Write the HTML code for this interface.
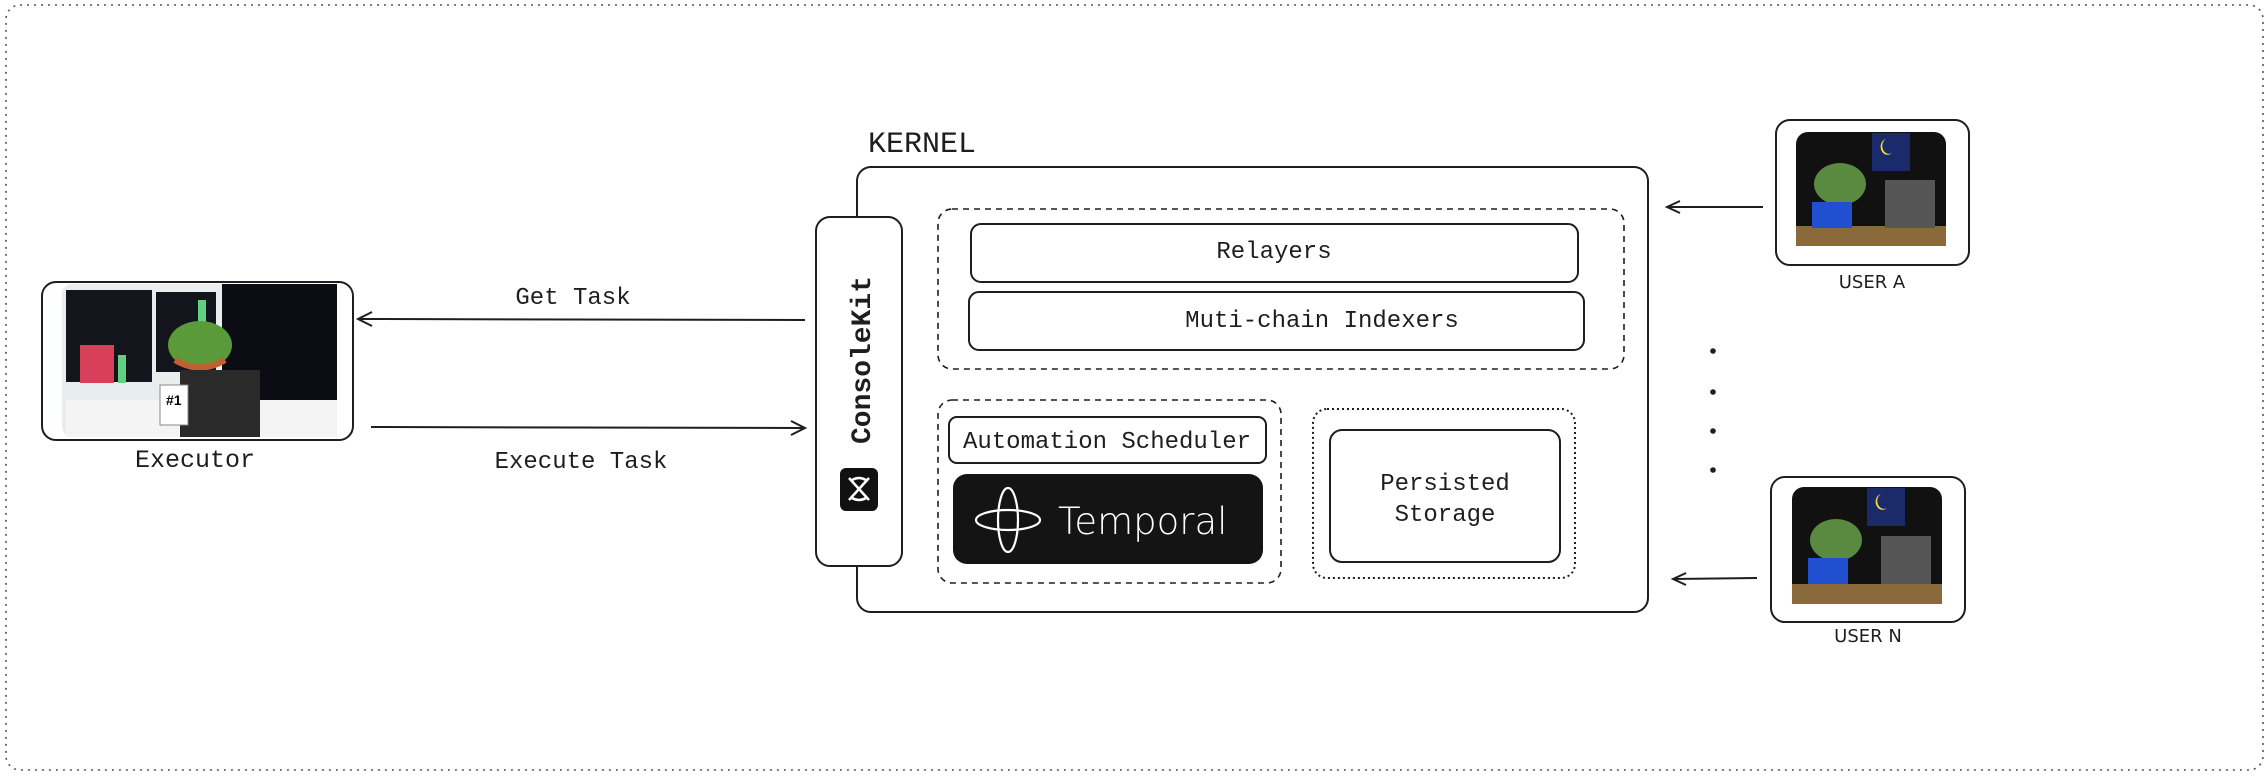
<!DOCTYPE html>
<html><head><meta charset="utf-8"><style>
html,body{margin:0;padding:0;background:#fff;}
svg{display:block;}
.m{font-family:"Liberation Mono","DejaVu Sans Mono",monospace;fill:#1e1e1e;}
</style></head><body>
<svg width="2268" height="780" viewBox="0 0 2268 780" xmlns="http://www.w3.org/2000/svg">
<rect x="6" y="5" width="2257" height="765" rx="14" fill="none" stroke="#555" stroke-width="1.6" stroke-dasharray="2 5"/>

<!-- Kernel -->
<text x="868" y="152" class="m" font-size="30">KERNEL</text>
<rect x="857" y="167" width="791" height="445" rx="14" fill="#fff" stroke="#1e1e1e" stroke-width="2"/>
<rect x="816" y="217" width="86" height="349" rx="14" fill="#fff" stroke="#1e1e1e" stroke-width="2"/>
<text transform="translate(870,360) rotate(-90)" class="m" font-size="28" text-anchor="middle" font-weight="bold">ConsoleKit</text>
<rect x="840" y="468" width="38" height="43" rx="6" fill="#111"/>
<path d="M849 478 L869 500 M869 478 L849 500 M852 480 Q859 476 866 480 M852 498 Q859 502 866 498" stroke="#fff" stroke-width="2.5" fill="none"/>

<rect x="938" y="209" width="686" height="160" rx="14" fill="none" stroke="#1e1e1e" stroke-width="1.6" stroke-dasharray="6 5"/>
<rect x="971" y="224" width="607" height="58" rx="10" fill="#fff" stroke="#1e1e1e" stroke-width="2"/>
<text x="1274" y="258" class="m" font-size="24" text-anchor="middle">Relayers</text>
<rect x="969" y="292" width="615" height="58" rx="10" fill="#fff" stroke="#1e1e1e" stroke-width="2"/>
<text x="1322" y="327" class="m" font-size="24" text-anchor="middle">Muti-chain Indexers</text>

<rect x="938" y="400" width="343" height="183" rx="14" fill="none" stroke="#1e1e1e" stroke-width="1.6" stroke-dasharray="6 5"/>
<rect x="949" y="417" width="317" height="46" rx="8" fill="#fff" stroke="#1e1e1e" stroke-width="2"/>
<text x="1107" y="448" class="m" font-size="24" text-anchor="middle">Automation Scheduler</text>
<rect x="953" y="474" width="310" height="90" rx="14" fill="#141414"/>
<ellipse cx="1008" cy="520" rx="10" ry="32" fill="none" stroke="#fff" stroke-width="2.2"/>
<ellipse cx="1008" cy="520" rx="32" ry="10" fill="none" stroke="#fff" stroke-width="2.2"/>
<text x="1058" y="534" font-family="'DejaVu Sans','Liberation Sans',sans-serif" font-size="37" fill="#fff" font-weight="300">Temporal</text>

<rect x="1313" y="409" width="262" height="169" rx="14" fill="none" stroke="#1e1e1e" stroke-width="2" stroke-dasharray="2 3"/>
<rect x="1330" y="430" width="230" height="132" rx="12" fill="#fff" stroke="#1e1e1e" stroke-width="2"/>
<text x="1445" y="490" class="m" font-size="24" text-anchor="middle">Persisted</text>
<text x="1445" y="521" class="m" font-size="24" text-anchor="middle">Storage</text>

<!-- Executor -->
<rect x="42" y="282" width="311" height="158" rx="14" fill="#fff" stroke="#1e1e1e" stroke-width="2"/>
<rect x="62" y="284" width="275" height="153" rx="10" fill="#e8eeee"/>
<rect x="66" y="290" width="86" height="92" fill="#14141c"/>
<rect x="156" y="292" width="60" height="80" fill="#14141c"/>
<rect x="222" y="284" width="115" height="120" fill="#0c0c14"/>
<rect x="80" y="345" width="34" height="38" fill="#d8405a"/>
<rect x="118" y="355" width="8" height="28" fill="#5fd080"/>
<rect x="198" y="300" width="8" height="40" fill="#5fd080"/>
<rect x="66" y="400" width="271" height="37" fill="#f4f4f4"/>
<ellipse cx="200" cy="345" rx="32" ry="24" fill="#5b9a3a"/>
<path d="M175 360 Q200 375 225 360" stroke="#c06030" stroke-width="6" fill="none"/>
<rect x="180" y="370" width="80" height="67" fill="#2a2a2a"/>
<rect x="160" y="385" width="28" height="40" fill="#fff" stroke="#888"/>
<text x="166" y="405" font-family="'Liberation Sans',sans-serif" font-size="14" font-weight="bold">#1</text>
<text x="195" y="467" class="m" font-size="25" text-anchor="middle">Executor</text>

<!-- arrows left -->
<line x1="358" y1="319" x2="805" y2="320" stroke="#1e1e1e" stroke-width="2"/>
<path d="M372 312 L358 319 L372 326" stroke="#1e1e1e" stroke-width="2" fill="none"/>
<text x="573" y="304" class="m" font-size="24" text-anchor="middle">Get Task</text>
<line x1="371" y1="427" x2="805" y2="428" stroke="#1e1e1e" stroke-width="2"/>
<path d="M791 421 L805 428 L791 435" stroke="#1e1e1e" stroke-width="2" fill="none"/>
<text x="581" y="468" class="m" font-size="24" text-anchor="middle">Execute Task</text>

<!-- Users -->
<g>
<rect x="1776" y="120" width="193" height="145" rx="14" fill="#fff" stroke="#1e1e1e" stroke-width="2"/>
<rect x="1796" y="132" width="150" height="114" rx="12" fill="#111"/>
<rect x="1872" y="133" width="38" height="38" fill="#1a2a6a"/>
<path d="M1886 139 a7 8 0 1 0 6 14 a6 7 0 1 1 -6 -14z" fill="#f0e030"/>
<rect x="1796" y="226" width="150" height="20" fill="#8a6a3a"/>
<ellipse cx="1840" cy="184" rx="26" ry="21" fill="#5a8a40"/>
<rect x="1812" y="202" width="40" height="26" fill="#2050d0"/>
<rect x="1885" y="180" width="50" height="48" fill="#555"/>
<text x="1872" y="288" font-family="'DejaVu Sans','Liberation Sans',sans-serif" font-size="18" text-anchor="middle" fill="#1e1e1e">USER  A</text>
</g>
<g>
<rect x="1771" y="477" width="194" height="145" rx="14" fill="#fff" stroke="#1e1e1e" stroke-width="2"/>
<rect x="1792" y="487" width="150" height="117" rx="12" fill="#111"/>
<rect x="1867" y="488" width="38" height="38" fill="#1a2a6a"/>
<path d="M1881 494 a7 8 0 1 0 6 14 a6 7 0 1 1 -6 -14z" fill="#f0e030"/>
<rect x="1792" y="584" width="150" height="20" fill="#8a6a3a"/>
<ellipse cx="1836" cy="540" rx="26" ry="21" fill="#5a8a40"/>
<rect x="1808" y="558" width="40" height="26" fill="#2050d0"/>
<rect x="1881" y="536" width="50" height="48" fill="#555"/>
<text x="1868" y="642" font-family="'DejaVu Sans','Liberation Sans',sans-serif" font-size="18" text-anchor="middle" fill="#1e1e1e">USER  N</text>
</g>
<line x1="1667" y1="207" x2="1763" y2="207" stroke="#1e1e1e" stroke-width="2"/>
<path d="M1680 201 L1667 207 L1680 213" stroke="#1e1e1e" stroke-width="2" fill="none"/>
<line x1="1673" y1="579" x2="1757" y2="578" stroke="#1e1e1e" stroke-width="2"/>
<path d="M1686 573 L1673 579 L1686 585" stroke="#1e1e1e" stroke-width="2" fill="none"/>
<circle cx="1713" cy="351" r="2.8" fill="#1e1e1e"/>
<circle cx="1713" cy="392" r="2.8" fill="#1e1e1e"/>
<circle cx="1713" cy="431" r="2.8" fill="#1e1e1e"/>
<circle cx="1713" cy="470" r="2.8" fill="#1e1e1e"/>
</svg>
</body></html>
